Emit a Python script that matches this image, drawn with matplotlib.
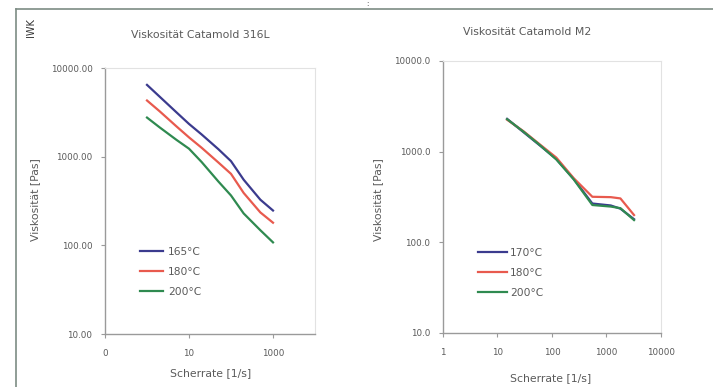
import numpy as np
import matplotlib.pyplot as plt
from matplotlib.lines import Line2D
from matplotlib.ticker import FixedLocator, FixedFormatter, NullLocator

# left chart: Catamold 316L
rate_316 = [1, 2, 5, 10, 20, 50, 100, 200, 500, 1000]
visc_316_165 = [6450, 4750, 3170, 2340, 1780, 1215, 890, 550, 327, 247]
visc_316_180 = [4300, 3250, 2200, 1650, 1260, 860, 640, 390, 235, 180]
visc_316_200 = [2760, 2140, 1550, 1230, 870, 525, 365, 229, 148, 108]
labels_316 = ["165°C", "180°C", "200°C"]

# right chart: Catamold M2
rate_m2 = [15, 30, 60, 120, 250, 550, 1200, 1800, 3200]
visc_m2_170 = [2300, 1640, 1170, 830, 500, 268, 255, 235, 180]
visc_m2_180 = [2250, 1680, 1200, 860, 510, 318, 315, 305, 200]
visc_m2_200 = [2280, 1660, 1180, 820, 495, 258, 248, 238, 176]
labels_m2 = ["170°C", "180°C", "200°C"]

colors = ["#3b3b8e", "#e85a4e", "#2f8a50"]
txt = "#5a5a5a"

fig = plt.figure(figsize=(7.13, 3.87), dpi=100)
W, H = 713, 387


def fx(px):
    return px / W


def fy(py):
    return 1 - py / H


# frame around the figure
fig.add_artist(Line2D([fx(16), 1], [fy(9), fy(9)], color="#7d8c84", lw=1.2))
fig.add_artist(Line2D([fx(16), fx(16)], [fy(9), 0], color="#7d8c84", lw=1.2))
fig.text(fx(31), fy(28), "IWK", rotation=90, ha="center", va="center",
         fontsize=7, color="#333333")
fig.text(fx(367), fy(4), ":", ha="center", va="center", fontsize=5, color="#333333")


def style(ax, xticks, xlabels, yticks, ylabels, xlim):
    ax.set_xscale("log")
    ax.set_yscale("log")
    ax.set_xlim(*xlim)
    ax.set_ylim(10, 10000)
    ax.xaxis.set_major_locator(FixedLocator(xticks))
    ax.xaxis.set_major_formatter(FixedFormatter(xlabels))
    ax.xaxis.set_minor_locator(NullLocator())
    ax.yaxis.set_major_locator(FixedLocator(yticks))
    ax.yaxis.set_major_formatter(FixedFormatter(ylabels))
    ax.yaxis.set_minor_locator(NullLocator())
    for side in ["top", "right"]:
        ax.spines[side].set_color("#e2e2e2")
        ax.spines[side].set_linewidth(0.8)
    for side in ["left", "bottom"]:
        ax.spines[side].set_color("#9a9a9a")
        ax.spines[side].set_linewidth(1.0)
    ax.tick_params(direction="out", length=3, width=0.8, color="#9a9a9a",
                   labelsize=6.3, labelcolor=txt)
    ax.tick_params(axis="y", pad=6)
    ax.tick_params(axis="x", pad=8)


legend_kw = dict(bbox_transform=fig.transFigure, frameon=False, fontsize=7.7,
                 labelspacing=0.93, borderpad=0, borderaxespad=0,
                 labelcolor=txt, loc="upper left")

# left chart
ax1 = fig.add_axes([fx(105), fy(334), fx(210), 266 / H])
for v, c, lab in zip([visc_316_165, visc_316_180, visc_316_200], colors, labels_316):
    ax1.plot(rate_316, v, color=c, lw=1.6, label=lab)
style(ax1, [0.1, 10, 1000], ["0", "10", "1000"],
      [10, 100, 1000, 10000], ["10.00", "100.00", "1000.00", "10000.00"],
      (0.1, 10000))
fig.text(fx(200), fy(35), "Viskosität Catamold 316L", ha="center", va="center",
         fontsize=7.8, color=txt)
fig.text(fx(35), fy(200), "Viskosität [Pas]", rotation=90, ha="center",
         va="center", fontsize=7.8, color=txt)
fig.text(fx(211), fy(373), "Scherrate [1/s]", ha="center", va="center",
         fontsize=7.8, color=txt)
ax1.legend(bbox_to_anchor=(fx(140), fy(247)), handlelength=2.15,
           handletextpad=0.45, **legend_kw)

# right chart
ax2 = fig.add_axes([fx(443), fy(333), fx(218), 272 / H])
for v, c, lab in zip([visc_m2_170, visc_m2_180, visc_m2_200], colors, labels_m2):
    ax2.plot(rate_m2, v, color=c, lw=1.6, label=lab)
style(ax2, [1, 10, 100, 1000, 10000], ["1", "10", "100", "1000", "10000"],
      [10, 100, 1000, 10000], ["10.0", "100.0", "1000.0", "10000.0"],
      (1, 10000))
fig.text(fx(527), fy(32), "Viskosität Catamold M2", ha="center", va="center",
         fontsize=7.8, color=txt)
fig.text(fx(378), fy(200), "Viskosität [Pas]", rotation=90, ha="center",
         va="center", fontsize=7.8, color=txt)
fig.text(fx(551), fy(378), "Scherrate [1/s]", ha="center", va="center",
         fontsize=7.8, color=txt)
ax2.legend(bbox_to_anchor=(fx(478), fy(248)), handlelength=2.7,
           handletextpad=0.28, **legend_kw)

fig.savefig("out.png", dpi=100)
